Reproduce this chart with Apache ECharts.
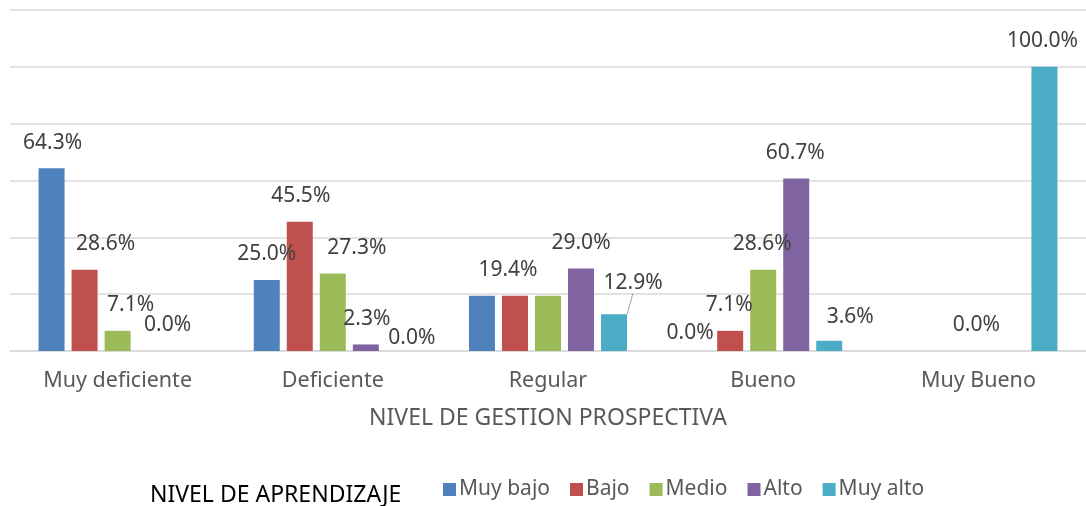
<!DOCTYPE html>
<html>
<head>
<meta charset="utf-8">
<script src="https://cdn.jsdelivr.net/npm/echarts@6/dist/echarts.min.js"></script>
<style>
  html, body { margin: 0; padding: 0; background: #fff; }
  #chart { width: 1086px; height: 506px; }
</style>
</head>
<body>
<div id="chart"></div>
<script>
// categories and values (percent)
var categories = ["Muy deficiente", "Deficiente", "Regular", "Bueno", "Muy Bueno"];
var seriesNames = ["Muy bajo", "Bajo", "Medio", "Alto", "Muy alto"];
var muyBajo = [64.3, 25.0, 19.4, 0.0, null];
var bajo = [28.6, 45.5, 19.4, 7.1, null];
var medio = [7.1, 27.3, 19.4, 28.6, 0.0];
var alto = [0.0, 2.3, 29.0, 60.7, null];
var muyAlto = [null, 0.0, 12.9, 3.6, 100.0];
var yTicks = [0, 20, 40, 60, 80, 100, 120];

var colors = ["#4f81bd", "#c0504d", "#9bbb59", "#8064a2", "#4bacc6"];

// label nudges as in the original (series index -> data index -> [dx, dy])
var labelShift = {
  0: { 0: [1, 0], 1: [0, 0], 3: [-7, 8] },
  1: { 0: [21, 0], 1: [1, 0], 2: [-7, 0], 3: [-1, 0] },
  2: { 0: [13, 0], 1: [24, 0], 3: [-1, 0], 4: [-2, 0] },
  3: { 0: [17, 0], 1: [1, 0], 3: [-1, 0] },
  4: { 1: [13, 13], 2: [19, -6], 3: [21, 2], 4: [-2, 0] }
};
// labels Excel left hidden
var hiddenLabel = { "0-2": true, "2-2": true };

var chart = echarts.init(document.getElementById("chart"));

var allData = [muyBajo, bajo, medio, alto, muyAlto];
var series = allData.map(function (arr, s) {
  return {
    name: seriesNames[s],
    type: "bar",
    barWidth: 26,
    barGap: "27%",
    itemStyle: { color: colors[s] },
    label: {
      show: true,
      position: "top",
      distance: 15,
      color: "#404040",
      fontSize: 21,
      fontFamily: "Noto Sans",
      formatter: function (p) {
        return p.value.toFixed(1) + "%";
      }
    },
    labelLine: {
      show: false,
      lineStyle: { color: "#a6a6a6", width: 1 }
    },
    labelLayout: function (p) {
      var sh = (labelShift[s] || {})[p.dataIndex] || [0, 0];
      return { dx: sh[0], dy: sh[1] };
    },
    data: arr.map(function (v, d) {
      if (v === null) return null;
      var item = { value: v };
      if (hiddenLabel[s + "-" + d]) item.label = { show: false };
      if (s === 4 && d === 2) item.labelLine = { show: true };
      return item;
    })
  };
});

var option = {
  backgroundColor: "#ffffff",
  animation: false,
  color: colors,
  title: {
    text: "NIVEL DE APRENDIZAJE",
    left: 145,
    top: 479,
    textStyle: {
      color: "#000000",
      fontSize: 23,
      fontWeight: "normal",
      fontFamily: "Noto Sans"
    }
  },
  legend: {
    data: seriesNames,
    left: 438,
    top: 474,
    icon: "rect",
    itemWidth: 13,
    itemHeight: 13,
    itemGap: 20,
    textStyle: {
      color: "#595959",
      fontSize: 21,
      fontFamily: "Noto Sans",
      padding: [0, 0, 0, -2]
    }
  },
  grid: {
    left: 10,
    top: 10,
    width: 1080,
    height: 341
  },
  xAxis: {
    type: "category",
    data: categories,
    axisTick: { show: false },
    axisLine: { lineStyle: { color: "#d9d9d9", width: 1.5 } },
    axisLabel: {
      color: "#595959",
      fontSize: 21.5,
      fontFamily: "Noto Sans",
      margin: 19
    },
    name: "NIVEL DE GESTION PROSPECTIVA",
    nameLocation: "middle",
    nameGap: 56,
    nameTextStyle: {
      color: "#595959",
      fontSize: 23,
      fontFamily: "Noto Sans"
    }
  },
  yAxis: {
    type: "value",
    min: yTicks[0],
    max: yTicks[yTicks.length - 1],
    interval: yTicks[1] - yTicks[0],
    axisLabel: { show: false },
    axisLine: { show: false },
    axisTick: { show: false },
    splitLine: { lineStyle: { color: "#d9d9d9", width: 1.5 } }
  },
  series: series
};

chart.setOption(option);
</script>
</body>
</html>
